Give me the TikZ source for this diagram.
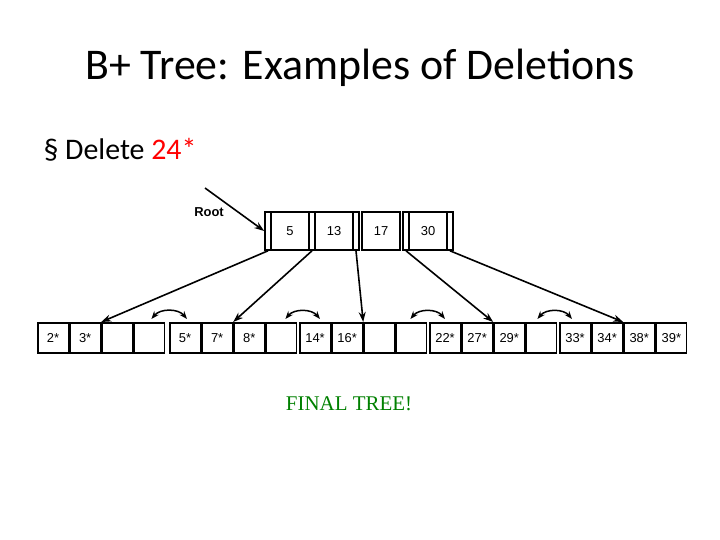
\documentclass[tikz,border=0pt]{standalone}
\usepackage{fontspec}
\setmainfont{Carlito}
\newfontfamily\myarial{Liberation Sans}
\newfontfamily\mytimes{Liberation Serif}
\usetikzlibrary{arrows.meta}
\begin{document}
\begin{tikzpicture}[x=1bp,y=-1bp,
  cell/.style={draw,line width=1.6bp,minimum height=30bp,inner sep=0,font=\myarial\fontsize{13}{13}\selectfont},
  key/.style={draw,line width=1.6bp,minimum height=38bp,inner sep=0,font=\myarial\fontsize{13}{13}\selectfont},
  ptr/.style={line width=1.6bp,-{Stealth[length=10bp,width=7bp]}},
  sib/.style={line width=1.5bp,{Stealth[length=8bp,width=6bp]}-{Stealth[length=8bp,width=6bp]}}]
\useasboundingbox (0,0) rectangle (720,540);
\node[font=\fontsize{44}{44}\selectfont] (title) at (360,68) {B+ Tree: Examples of Deletions};
\node[anchor=west,font=\fontsize{30}{30}\selectfont] (bul) at (40,150) {§ Delete \textcolor{red}{24*}};
% root
\node[key,minimum width=6bp] (s1) at (268,231) {};
\node[key,minimum width=38bp] (k1) at (290,231) {5};
\node[key,minimum width=6bp] (s2) at (312,231) {};
\node[key,minimum width=38bp] (k2) at (334,231) {13};
\node[key,minimum width=6bp] (s3) at (356,231) {};
\node[key,minimum width=38bp] (k3) at (381,231) {17};
\node[key,minimum width=6bp] (s4) at (406,231) {};
\node[key,minimum width=38bp] (k4) at (428,231) {30};
\node[key,minimum width=6bp] (s5) at (450,231) {};
\node[font=\myarial\bfseries\fontsize{13}{13}\selectfont] (rootl) at (209,212) {Root};
\coordinate (rs) at (205,188);
\draw[ptr] (rs) -- (s1.west);
% leaves
\foreach \L/\x/\a/\b/\c/\d in {1/37/2*/3*//,2/169/5*/7*/8*/,3/299/14*/16*//,4/429/22*/27*/29*/,5/559/33*/34*/38*/39*}{
  \node[cell,minimum width=30.5bp,anchor=north west] (l\L c1) at (\x,322) {\a};
  \node[cell,minimum width=30.5bp,anchor=west] (l\L c2) at (l\L c1.east) {\b};
  \node[cell,minimum width=30.5bp,anchor=west] (l\L c3) at (l\L c2.east) {\c};
  \node[cell,minimum width=30.5bp,anchor=west] (l\L c4) at (l\L c3.east) {\d};
}
\draw[ptr] (s1.south) -- (l1c3.north west);
\draw[ptr] (s2.south) -- (l2c3.north west);
\draw[ptr] (s3.south) -- (l3c3.north west);
\draw[ptr] (s4.south) -- (l4c3.north west);
\draw[ptr] (s5.south) -- (l5c3.north west);
\draw[sib] ([shift={(-14,-3)}]l1c4.north east) to[bend left=50] ([shift={(18,-3)}]l2c1.north west);
\draw[sib] ([shift={(-12,-3)}]l2c4.north east) to[bend left=50] ([shift={(21,-3)}]l3c1.north west);
\draw[sib] ([shift={(-17,-3)}]l3c4.north east) to[bend left=50] ([shift={(16,-3)}]l4c1.north west);
\draw[sib] ([shift={(-20,-3)}]l4c4.north east) to[bend left=50] ([shift={(13,-3)}]l5c1.north west);
\node[text=green!50!black,font=\mytimes\fontsize{21}{21}\selectfont] (fin) at (349,404) {FINAL TREE!};
\end{tikzpicture}
\end{document}
